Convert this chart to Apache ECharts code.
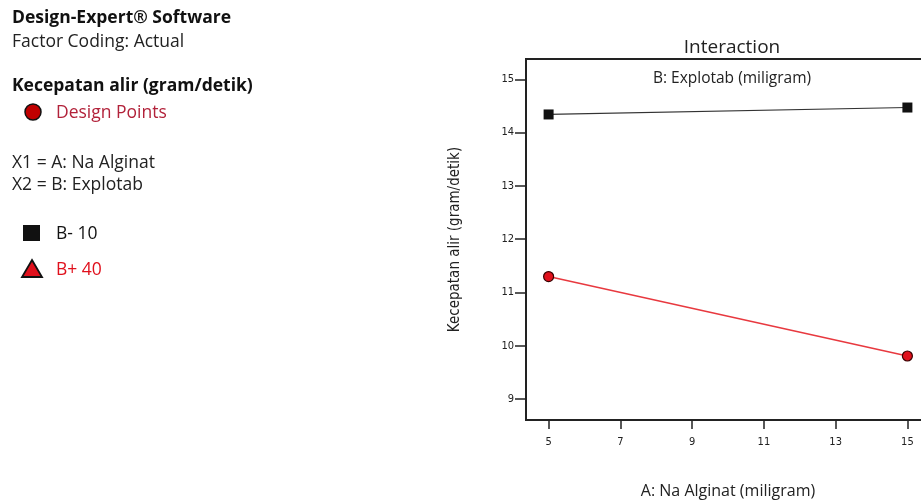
<!DOCTYPE html>
<html><head><meta charset="utf-8">
<script src="https://cdn.jsdelivr.net/npm/echarts@6/dist/echarts.min.js"></script>
<style>html,body{margin:0;padding:0;background:#fff}#c{width:921px;height:502px}</style>
</head><body><div id="c"></div>
<script>
const xValues = [5, 15];
const seriesLow = [14.34, 14.47];   // B- 10
const seriesHigh = [11.30, 9.81];   // B+ 40
const xTicks = [5, 7, 9, 11, 13, 15];
const yTicks = [9, 10, 11, 12, 13, 14, 15];
const seriesNames = ['B- 10', 'B+ 40'];

const font = '"Open Sans", "DejaVu Sans", sans-serif';
const narrow = '"Liberation Sans Narrow", "DejaVu Sans Condensed", "Roboto Condensed", sans-serif';
const chart = echarts.init(document.getElementById('c'));
chart.setOption({
  animation: false,
  backgroundColor: '#fff',
  textStyle: {fontFamily: font},
  title: [
    {text: 'Interaction', left: 727, top: 33, textAlign: 'center',
     textStyle: {fontSize: 19, fontWeight: 'normal', color: '#222', fontFamily: font}},
    {text: 'B: Explotab (miligram)', left: 727, top: 66, textAlign: 'center',
     textStyle: {fontSize: 15.5, fontWeight: 'normal', color: '#222', fontFamily: font}}
  ],
  graphic: [
    {type: 'text', left: 12, top: 9, style: {text: 'Design-Expert® Software', font: 'bold 17.5px ' + font, fill: '#111'}},
    {type: 'text', left: 12, top: 33, style: {text: 'Factor Coding: Actual', font: '17.5px ' + font, fill: '#222'}},
    {type: 'text', left: 12, top: 77, style: {text: 'Kecepatan alir (gram/detik)', font: 'bold 17.5px ' + font, fill: '#111'}},
    {type: 'circle', shape: {cx: 33, cy: 112, r: 8}, style: {fill: '#c00000', stroke: '#111', lineWidth: 1.5}},
    {type: 'text', left: 56, top: 104, style: {text: 'Design Points', font: '17.5px ' + font, fill: '#b2223a'}},
    {type: 'text', left: 12, top: 154, style: {text: 'X1 = A: Na Alginat', font: '17.5px ' + font, fill: '#222'}},
    {type: 'text', left: 12, top: 176, style: {text: 'X2 = B: Explotab', font: '17.5px ' + font, fill: '#222'}},
    {type: 'rect', shape: {x: 23, y: 225, width: 17, height: 16}, style: {fill: '#111'}},
    {type: 'text', left: 56, top: 225, style: {text: seriesNames[0], font: '17.5px ' + font, fill: '#111'}},
    {type: 'polygon', shape: {points: [[32, 260], [42, 277], [22, 277]]}, style: {fill: '#e0101c', stroke: '#111', lineWidth: 1.8}},
    {type: 'text', left: 56, top: 261, style: {text: seriesNames[1], font: '17.5px ' + font, fill: '#e0101c'}}
  ],
  grid: {left: 526, top: 59, right: -9, bottom: 82, outerBoundsMode: 'none', containLabel: false,
    show: true, borderColor: '#222', borderWidth: 2, backgroundColor: 'transparent'},
  xAxis: {
    type: 'value', min: 4.37, max: 15.63, interval: 2,
    name: 'A: Na Alginat (miligram)', nameLocation: 'middle', nameGap: 63,
    nameTextStyle: {fontSize: 16, color: '#222', fontFamily: font},
    axisLine: {show: true, lineStyle: {color: '#222', width: 2}},
    axisTick: {show: true, length: 9, lineStyle: {color: '#222', width: 1.5},
      customValues: xTicks},
    axisLabel: {fontSize: 11, color: '#222', margin: 17, customValues: xTicks, fontFamily: narrow},
    splitLine: {show: false}
  },
  yAxis: {
    type: 'value', min: 8.61, max: 15.38,
    name: 'Kecepatan alir (gram/detik)', nameLocation: 'middle', nameGap: 63, nameRotate: 90,
    nameTextStyle: {fontSize: 15, color: '#222', fontFamily: narrow},
    axisLine: {show: true, lineStyle: {color: '#222', width: 2}},
    axisTick: {show: true, length: 11, lineStyle: {color: '#222', width: 1.5}, customValues: yTicks},
    axisLabel: {fontSize: 11, color: '#222', margin: 12, customValues: yTicks, fontFamily: narrow,
      padding: [0, 0, 5, 0]},
    splitLine: {show: false}
  },
  series: [
    {name: seriesNames[0], type: 'line', data: xValues.map((x, i) => [x, seriesLow[i]]),
     symbol: 'rect', symbolSize: 10, itemStyle: {color: '#111'},
     lineStyle: {color: '#333', width: 1.2}},
    {name: seriesNames[1], type: 'line', data: xValues.map((x, i) => [x, seriesHigh[i]]),
     symbol: 'circle', symbolSize: 10, itemStyle: {color: '#e0101c', borderColor: '#3a0000', borderWidth: 1.2},
     lineStyle: {color: '#e8393f', width: 1.5}}
  ]
});
</script></body></html>
